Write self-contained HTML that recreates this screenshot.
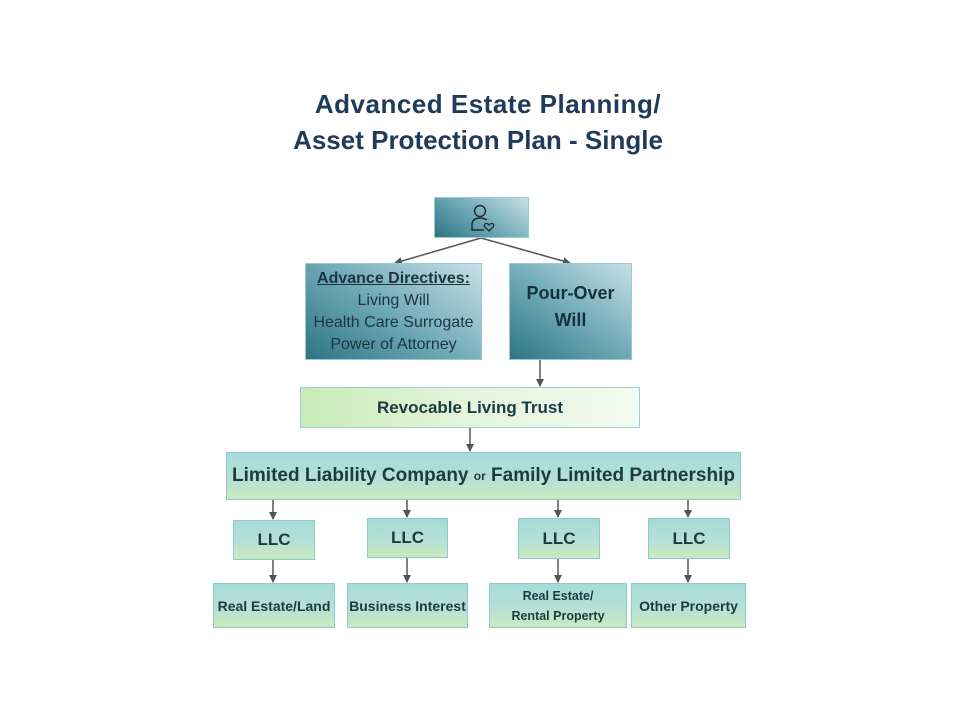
<!DOCTYPE html>
<html><head><style>
body{margin:0;width:960px;height:720px;background:#fff;position:relative;font-family:"Liberation Sans","DejaVu Sans",sans-serif;overflow:hidden}
.b{position:absolute;box-sizing:border-box;display:flex;align-items:center;justify-content:center;text-align:center;color:#1d3a40;font-weight:bold;white-space:nowrap}
.dk{background:linear-gradient(35deg,#2e7485 0%,#6aa6b4 45%,#c6e0e6 100%);border:1px solid #9cc9d0}
.tl{background:linear-gradient(180deg,#a6dbd9 0%,#b5e0d6 55%,#cbe9bd 100%);border:1px solid #8ccbcb}
.gr{background:linear-gradient(90deg,#c8ecb8 0%,#e4f5dc 50%,#f3fbf0 100%);border:1px solid #9ccfd3}
.t{position:absolute;text-align:center;color:#1f3a5a;font-weight:bold;font-size:26px}
</style></head><body>
<div class="t" style="top:89px;left:10px;width:956px;letter-spacing:0.5px">Advanced Estate Planning/</div>
<div class="t" style="top:125px;left:0;width:956px;letter-spacing:0px">Asset Protection Plan - Single</div>
<svg width="960" height="720" style="position:absolute;left:0;top:0">
<defs><marker id="a" markerWidth="8" markerHeight="8" refX="7" refY="4" orient="auto" markerUnits="userSpaceOnUse"><path d="M0,0L8,4L0,8z" fill="#555"/></marker></defs>
<g stroke="#555" stroke-width="1.5" marker-end="url(#a)">
<line x1="481" y1="238" x2="395" y2="263"/>
<line x1="481" y1="238" x2="570" y2="263"/>
<line x1="540" y1="360" x2="540" y2="386"/>
<line x1="470" y1="428" x2="470" y2="451"/>
<line x1="273" y1="500" x2="273" y2="519"/>
<line x1="407" y1="500" x2="407" y2="517"/>
<line x1="558" y1="500" x2="558" y2="517"/>
<line x1="688" y1="500" x2="688" y2="517"/>
<line x1="273" y1="560" x2="273" y2="582"/>
<line x1="407" y1="558" x2="407" y2="582"/>
<line x1="558" y1="559" x2="558" y2="582"/>
<line x1="688" y1="559" x2="688" y2="582"/>
</g></svg>
<div class="b dk" style="left:434px;top:197px;width:95px;height:41px">
<svg width="26" height="30" viewBox="0 0 26 30"><circle cx="11" cy="8" r="5.5" fill="none" stroke="#1d2d33" stroke-width="1.5"/><path d="M18 17 Q15 15 11 15 Q3 15 3 22 V27 H15" fill="none" stroke="#1d2d33" stroke-width="1.5"/><path d="M20 28 L15.5 23.5 Q14.5 21 17 20.5 Q19 20.5 20 22 Q21 20.5 23 20.5 Q25.5 21 24.5 23.5Z" fill="none" stroke="#1d2d33" stroke-width="1.3"/></svg></div>
<div class="b dk" style="left:305px;top:263px;width:177px;height:97px;flex-direction:column;font-weight:normal;font-size:16px;line-height:22px;color:#1d3540"><span style="font-weight:bold;text-decoration:underline">Advance Directives:</span>Living Will<br>Health Care Surrogate<br>Power of Attorney</div>
<div class="b dk" style="left:509px;top:263px;width:123px;height:97px;font-size:18px;line-height:27px;align-items:flex-start;padding-top:16px;color:#14303a">Pour-Over<br>Will</div>
<div class="b gr" style="left:300px;top:387px;width:340px;height:41px;font-size:17px">Revocable Living Trust</div>
<div class="b tl" style="left:226px;top:452px;width:515px;height:48px;font-size:19px">Limited Liability Company&nbsp;<span style="font-size:12px">or</span>&nbsp;Family Limited Partnership</div>
<div class="b tl" style="left:233px;top:520px;width:82px;height:40px;font-size:17px">LLC</div>
<div class="b tl" style="left:367px;top:518px;width:81px;height:40px;font-size:17px">LLC</div>
<div class="b tl" style="left:518px;top:518px;width:82px;height:41px;font-size:17px">LLC</div>
<div class="b tl" style="left:648px;top:518px;width:82px;height:41px;font-size:17px">LLC</div>
<div class="b tl" style="left:213px;top:583px;width:122px;height:45px;font-size:14px">Real Estate/Land</div>
<div class="b tl" style="left:347px;top:583px;width:121px;height:45px;font-size:14px">Business Interest</div>
<div class="b tl" style="left:489px;top:583px;width:138px;height:45px;font-size:12.5px;line-height:20px">Real Estate/<br>Rental Property</div>
<div class="b tl" style="left:631px;top:583px;width:115px;height:45px;font-size:14px">Other Property</div>
</body></html>
